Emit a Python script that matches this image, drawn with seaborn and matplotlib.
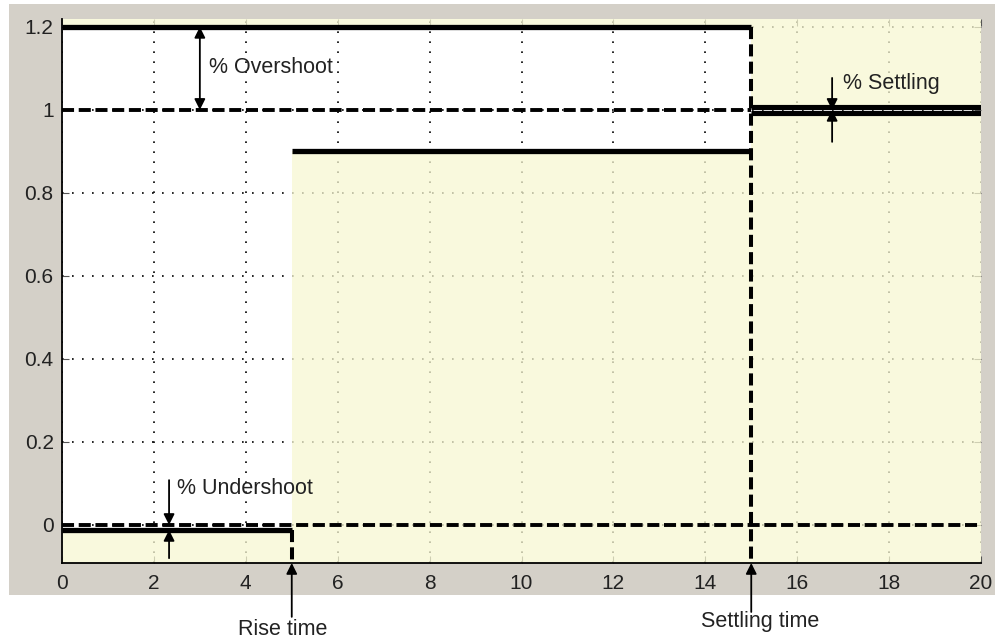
import matplotlib
matplotlib.use("Agg")
import matplotlib.pyplot as plt
from matplotlib.patches import Rectangle
import pandas as pd
import seaborn as sns

# step response bound values
t_start = 0
t_rise = 5
t_settle = 15
t_end = 20
initial_value = 0.0
final_value = 1.0
overshoot_level = 1.2
rise_level = 0.9
undershoot_level = -0.012
settle_band = [0.992, 1.008]
x_ticks = [0, 2, 4, 6, 8, 10, 12, 14, 16, 18, 20]
y_ticks = [0, 0.2, 0.4, 0.6, 0.8, 1, 1.2]
y_tick_labels = ["0", "0.2", "0.4", "0.6", "0.8", "1", "1.2"]
y_lim = (-0.0916, 1.219)

sns.set_theme(style="white")
plt.rcParams["font.family"] = ["Liberation Sans", "DejaVu Sans"]

fig = plt.figure(figsize=(10, 6.42), dpi=100)
fig.patch.set_facecolor("white")
fig.patches.append(Rectangle((9 / 1000, 1 - 595 / 642), 986 / 1000, 591 / 642,
                             transform=fig.transFigure, facecolor="#d4d0c8",
                             edgecolor="none", zorder=-10))
ax = fig.add_axes([62 / 1000, 1 - 563 / 642, 919 / 1000, 544 / 642])
ax.set_facecolor("white")

yellow = "#f8f8d2"
alpha = 0.75
ax.fill_between([t_start, t_settle], overshoot_level, y_lim[1], color=yellow, alpha=alpha, lw=0)
ax.fill_between([t_start, t_rise], y_lim[0], undershoot_level, color=yellow, alpha=alpha, lw=0)
ax.fill_between([t_rise, t_settle], y_lim[0], rise_level, color=yellow, alpha=alpha, lw=0)
ax.fill_between([t_settle, t_end], y_lim[0], settle_band[0], color=yellow, alpha=alpha, lw=0)
ax.fill_between([t_settle, t_end], settle_band[1], y_lim[1], color=yellow, alpha=alpha, lw=0)


def seg(xs, ys, lw, dashed=False, dash=(3.1, 1.2)):
    df = pd.DataFrame({"x": xs, "y": ys})
    sns.lineplot(data=df, x="x", y="y", estimator=None, sort=False,
                 color="black", lw=lw, ax=ax)
    ln = ax.lines[-1]
    if dashed:
        ln.set_dashes(dash)
    ln.set_solid_capstyle("butt")
    ln.set_dash_capstyle("butt")
    ln.set_zorder(3)


# reference dashed lines
seg([t_start, t_settle], [final_value, final_value], 2.8, dashed=True)
seg([t_start, t_end], [initial_value, initial_value], 2.8, dashed=True)
# bounds
seg([t_start, t_settle], [overshoot_level, overshoot_level], 3.8)
seg([t_settle, t_settle], [overshoot_level, y_lim[0]], 2.9, dashed=True, dash=(3.0, 1.3))
seg([t_rise, t_settle], [rise_level, rise_level], 3.8)
seg([t_start, t_rise], [undershoot_level, undershoot_level], 3.8)
seg([t_rise, t_rise], [undershoot_level, y_lim[0]], 2.9, dashed=True, dash=(3.0, 1.3))
seg([t_settle, t_end], [settle_band[0], settle_band[0]], 3.7)
seg([t_settle, t_end], [settle_band[1], settle_band[1]], 3.7)

ax.set_xlim(t_start, t_end)
ax.set_ylim(*y_lim)
ax.set_xticks(x_ticks)
ax.set_xticklabels([str(v) for v in x_ticks])
ax.set_yticks(y_ticks)
ax.set_yticklabels(y_tick_labels)
ax.set_xlabel("")
ax.set_ylabel("")
ax.set_axisbelow(True)
ax.grid(True, color="black", lw=1.2, linestyle=(0, (1, 5)))
ax.tick_params(direction="in", length=5, width=0.8, color="#555555",
               labelsize=15, labelcolor="#222222", top=True, right=True,
               bottom=True, left=True)
ax.tick_params(axis="x", pad=8)
ax.tick_params(axis="y", pad=6)
for side in ["top", "right"]:
    ax.spines[side].set_visible(False)
for side in ["left", "bottom"]:
    ax.spines[side].set_color("black")
    ax.spines[side].set_linewidth(1.3)

arrow = dict(arrowstyle="-|>", mutation_scale=16, lw=1.3, color="black",
             shrinkA=0, shrinkB=0)
darrow = dict(arrowstyle="<|-|>", mutation_scale=16, lw=1.3, color="black",
              shrinkA=0, shrinkB=0)
txt = dict(fontsize=15.5, color="#222222", va="center")

# overshoot
ax.annotate("", xy=(3.0, overshoot_level), xytext=(3.0, final_value), arrowprops=darrow, zorder=4)
ax.text(3.2, 1.103, "% Overshoot", **txt)
# settling
ax.annotate("", xy=(16.76, 1.0), xytext=(16.76, 1.077), arrowprops=arrow, zorder=4)
ax.annotate("", xy=(16.76, 1.0), xytext=(16.76, 0.923), arrowprops=arrow, zorder=4)
ax.text(17.0, 1.063, "% Settling", **txt)
# undershoot
ax.annotate("", xy=(2.33, initial_value), xytext=(2.33, 0.108), arrowprops=arrow, zorder=4)
ax.annotate("", xy=(2.33, undershoot_level), xytext=(2.33, -0.08), arrowprops=arrow, zorder=4)
ax.text(2.5, 0.089, "% Undershoot", **txt)
# rise / settling time below the axis
ax.annotate("", xy=(t_rise, 0), xytext=(t_rise, -0.099), xycoords=("data", "axes fraction"),
            textcoords=("data", "axes fraction"), arrowprops=arrow, annotation_clip=False)
ax.text(t_rise - 0.2, -0.123, "Rise time", transform=ax.get_xaxis_transform(),
        ha="center", fontsize=15.5, color="#222222", va="center")
ax.annotate("", xy=(t_settle, 0), xytext=(t_settle, -0.09), xycoords=("data", "axes fraction"),
            textcoords=("data", "axes fraction"), arrowprops=arrow, annotation_clip=False)
ax.text(t_settle + 0.2, -0.108, "Settling time", transform=ax.get_xaxis_transform(),
        ha="center", fontsize=15.5, color="#222222", va="center")

fig.savefig("out.png", dpi=100, facecolor=fig.get_facecolor())
